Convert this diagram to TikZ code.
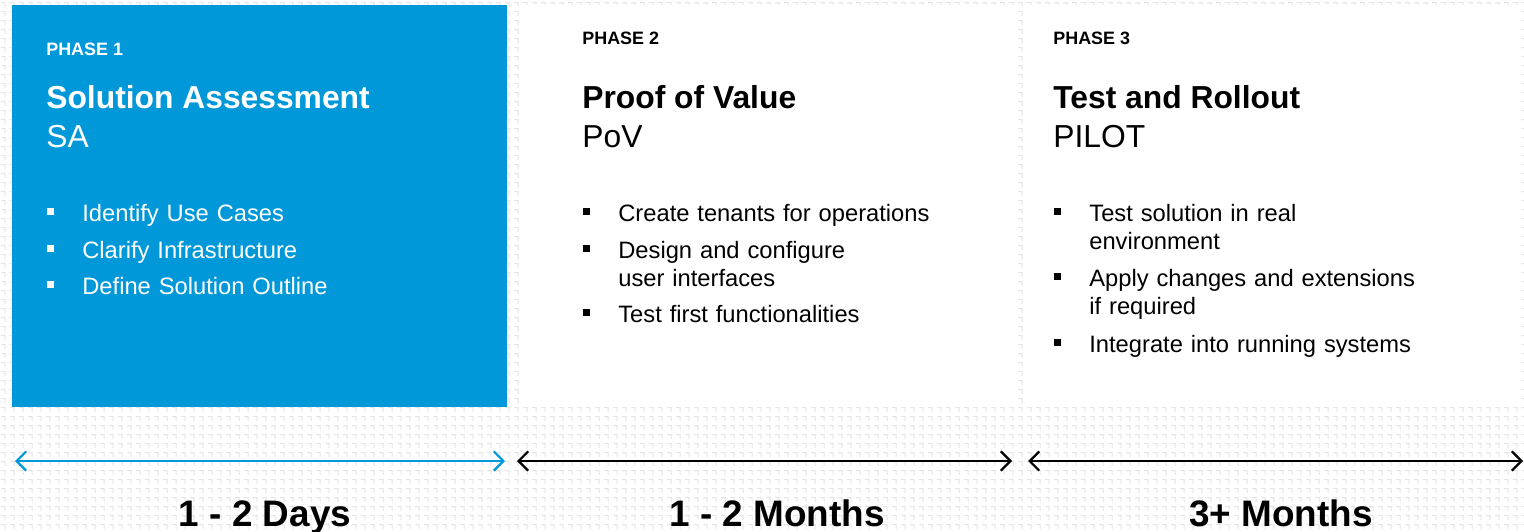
\documentclass[tikz,border=0pt]{standalone}
\usepackage{fontspec}
\setmainfont{Liberation Sans}
\usetikzlibrary{arrows.meta,patterns,calc}
\definecolor{phaseblue}{HTML}{0098D9}
\definecolor{markgray}{HTML}{E4E4E4}
\pgfdeclarepatternformonly{cornermarks}{\pgfpointorigin}{\pgfqpoint{5.12pt}{5.12pt}}{\pgfqpoint{5.12pt}{5.12pt}}{%
	\pgfsetlinewidth{0.6pt}
	\pgfpathmoveto{\pgfqpoint{0.6pt}{3.6pt}}
	\pgfpathlineto{\pgfqpoint{2.9pt}{3.6pt}}
	\pgfpathlineto{\pgfqpoint{2.9pt}{1.2pt}}
	\pgfusepath{stroke}}
\tikzset{
	phaselabel/.style={anchor=base west, inner sep=0pt, font=\fontsize{10.2}{12}\selectfont\bfseries},
	phasetitle/.style={anchor=base west, inner sep=0pt, font=\fontsize{18.1}{22}\selectfont\bfseries},
	phaseshort/.style={anchor=base west, inner sep=0pt, font=\fontsize{18.1}{22}\selectfont},
	task/.style={anchor=base west, inner sep=0pt, text width=8cm, align=left, font=\fontsize{13.5}{16.3}\selectfont},
	duration/.style={anchor=base, inner sep=0pt, font=\fontsize{21}{25}\selectfont\bfseries},
	span/.style={line width=1.4pt, {Straight Barb[length=5.5pt,width=11pt,line width=1.3pt]}-{Straight Barb[length=5.5pt,width=11pt,line width=1.3pt]}},
}
\begin{document}
\begin{tikzpicture}[x=0.02cm, y=-0.02cm]
	% backdrop and panels
	\useasboundingbox (0,0) rectangle (1524,531);
	\fill[white] (0,0) rectangle (1524,531);
	\fill[pattern=cornermarks, pattern color=markgray] (0,0) rectangle (1524,531);
	\fill[phaseblue] (12,5) rectangle (507,407);
	\fill[white] (519,5) rectangle (1016,407);
	\fill[white] (1025,5) rectangle (1518,407);

	% phase 1
	\node[phaselabel, white] (ph1) at (46,55) {PHASE 1};
	\node[phasetitle, white] (sa) at (46,108) {Solution Assessment};
	\node[phaseshort, white] (sashort) at (46,147) {SA};
	\node[task, white] (sa1) at (82,221) {Identify Use Cases};
	\node[task, white] (sa2) at (82,258) {Clarify Infrastructure};
	\node[task, white] (sa3) at (82,294) {Define Solution Outline};
	\foreach \t in {sa1,sa2,sa3}
		\fill[white] ([shift={(-35,-13)}]\t.base west) rectangle +(7,7);

	% phase 2
	\node[phaselabel] (ph2) at (582,44) {PHASE 2};
	\node[phasetitle] (pov) at (582,108) {Proof of Value};
	\node[phaseshort] (povshort) at (582,147) {PoV};
	\node[task] (pov1) at (618,221) {Create tenants for operations};
	\node[task] (pov2) at (618,258) {Design and configure\\user interfaces};
	\node[task] (pov3) at (618,322) {Test first functionalities};
	\foreach \t in {pov1,pov2,pov3}
		\fill ([shift={(-35,-13)}]\t.base west) rectangle +(7,7);

	% phase 3
	\node[phaselabel] (ph3) at (1053,44) {PHASE 3};
	\node[phasetitle] (pilot) at (1053,108) {Test and Rollout};
	\node[phaseshort] (pilotshort) at (1053,147) {PILOT};
	\node[task] (pilot1) at (1089,221) {Test solution in real\\environment};
	\node[task] (pilot2) at (1089,286) {Apply changes and extensions\\if required};
	\node[task] (pilot3) at (1089,352) {Integrate into running systems};
	\foreach \t in {pilot1,pilot2,pilot3}
		\fill ([shift={(-35,-13)}]\t.base west) rectangle +(7,7);

	% time spans
	\coordinate (d1a) at (15,461);
	\coordinate (d1b) at (505,461);
	\coordinate (d2a) at (517,461);
	\coordinate (d2b) at (1012,461);
	\coordinate (d3a) at (1028,461);
	\coordinate (d3b) at (1523,461);
	\draw[span, phaseblue] (d1a) -- (d1b);
	\draw[span] (d2a) -- (d2b);
	\draw[span] (d3a) -- (d3b);

	\node[duration] (days) at (265,526) {1 - 2 Days};
	\node[duration] (months) at (777,526) {1 - 2 Months};
	\node[duration] (more) at (1281,526) {3+ Months};
\end{tikzpicture}
\end{document}
